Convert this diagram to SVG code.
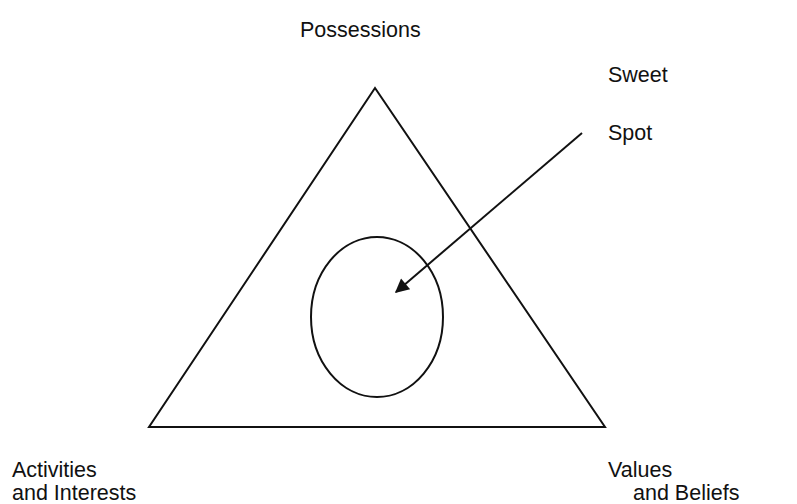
<svg xmlns="http://www.w3.org/2000/svg" width="797" height="504" viewBox="0 0 797 504">
<style>
  text { font-family: "Liberation Sans", Arial, sans-serif; font-size: 21.5px; fill: #111; }
  .shape { fill: none; stroke: #111; stroke-width: 2; }
</style>
<defs>
  <marker id="arrow" viewBox="0 0 10 10" refX="9" refY="5" markerWidth="18" markerHeight="14" markerUnits="userSpaceOnUse" orient="auto">
    <path d="M0,0 L10,5 L0,10 z" fill="#111"/>
  </marker>
</defs>
<rect width="797" height="504" fill="#fff"/>
<g id="triangle">
  <polygon class="shape" points="375,88 149,427 605,427"/>
</g>
<g id="sweet-spot-circle">
  <ellipse class="shape" cx="377" cy="317" rx="66" ry="80"/>
</g>
<g id="labels">
  <text x="300" y="37">Possessions</text>
  <text x="608" y="82">Sweet</text>
  <text x="608" y="140">Spot</text>
  <text x="12" y="477">Activities</text>
  <text x="12" y="500">and Interests</text>
  <text x="608" y="477">Values</text>
  <text x="633" y="500">and Beliefs</text>
</g>
<g id="connectors">
  <line x1="582" y1="133" x2="396" y2="292" stroke="#111" stroke-width="2" marker-end="url(#arrow)"/>
</g>
</svg>
